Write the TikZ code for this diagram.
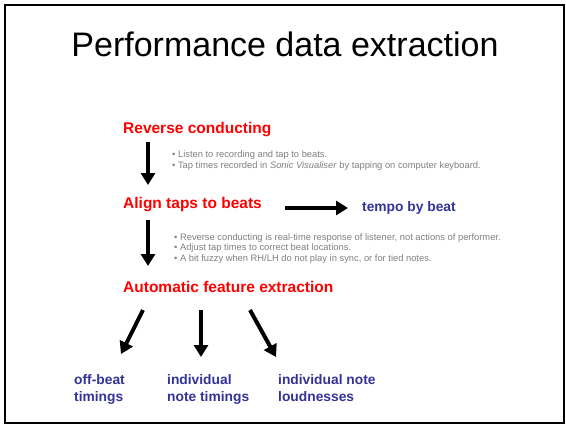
\documentclass[tikz,border=0pt]{standalone}
\usepackage{fontspec}
\setmainfont{Liberation Sans}
\usetikzlibrary{arrows.meta}
\definecolor{hdred}{RGB}{255,0,0}
\definecolor{resblue}{RGB}{51,51,153}
\definecolor{notegray}{RGB}{128,128,128}
\tikzset{
  stage/.style={anchor=base west, inner sep=0pt, text=hdred, font=\fontsize{15.5}{17}\selectfont\bfseries},
  result/.style={anchor=base west, inner sep=0pt, text=resblue, align=left, font=\fontsize{13.8}{17}\selectfont\bfseries},
  note/.style={anchor=base west, inner sep=0pt, text=notegray, align=left, font=\fontsize{9.35}{10.4}\selectfont},
  bigarrow/.style={line width=4pt, -{Triangle[length=12pt,width=14pt]}, shorten >=0pt}
}
\begin{document}
\begin{tikzpicture}[x=1pt,y=-1pt]
\useasboundingbox (0,0) rectangle (566,426);
\fill[white] (0,0) rectangle (566,426);
\draw[line width=2pt] (5,5) rectangle (564,423);
\node[anchor=base, inner sep=0pt, font=\fontsize{34}{40}\selectfont] (title) at (285,56) {Performance data extraction};

\node[stage] (rc) at (123,133) {Reverse conducting};
\node[stage] (align) at (123,208) {Align taps to beats};
\node[stage] (auto) at (123,292) {Automatic feature extraction};

% base anchor of a multi-line node is the baseline of its last line
\node[note] (n1) at (172,168) {• Listen to recording and tap to beats.\\• Tap times recorded in \textit{Sonic Visualiser} by tapping on computer keyboard.};
\node[note] (n2) at (174,261) {• Reverse conducting is real-time response of listener, not actions of performer.\\• Adjust tap times to correct beat locations.\\• A bit fuzzy when RH/LH do not play in sync, or for tied notes.};

\node[result] (tempo) at (362,211) {tempo by beat};
\node[result] (offbeat) at (74,401) {off-beat\\timings};
\node[result] (timings) at (167,401) {individual\\note timings};
\node[result] (loud) at (278,401) {individual note\\loudnesses};

\coordinate (a1s) at (148,142);
\coordinate (a1e) at (148,185);
\coordinate (a2s) at (148,220);
\coordinate (a2e) at (148,266);
\coordinate (a3s) at (285,208);
\coordinate (a3e) at (348,208);
\coordinate (b1s) at (143,310);
\coordinate (b1e) at (121,354);
\coordinate (b2s) at (201,310);
\coordinate (b2e) at (201,357);
\coordinate (b3s) at (250,310);
\coordinate (b3e) at (276,357);

\draw[bigarrow] (a1s) -- (a1e);
\draw[bigarrow] (a2s) -- (a2e);
\draw[bigarrow] (a3s) -- (a3e);
\draw[bigarrow] (b1s) -- (b1e);
\draw[bigarrow] (b2s) -- (b2e);
\draw[bigarrow] (b3s) -- (b3e);
\end{tikzpicture}
\end{document}
